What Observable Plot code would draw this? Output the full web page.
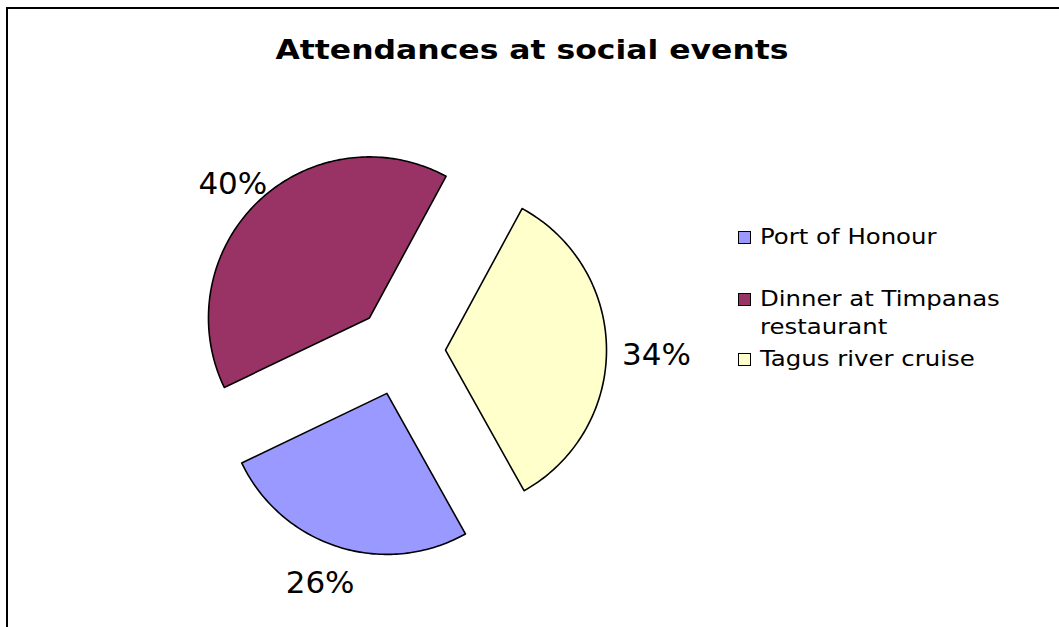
<!DOCTYPE html>
<html>
<head>
<meta charset="utf-8">
<script src="https://cdn.jsdelivr.net/npm/d3@7"></script>
<script src="https://cdn.jsdelivr.net/npm/@observablehq/plot@0.6"></script>
<style>
  html, body { margin: 0; padding: 0; background: #fff; overflow: hidden; }
  #wrap { position: relative; width: 1059px; height: 627px; overflow: hidden; font-family: "DejaVu Sans", Verdana, sans-serif; }
  #frame { position: absolute; left: 6px; top: 7px; width: 1100px; height: 700px; border-left: 2px solid #000; border-top: 2px solid #000; box-sizing: border-box; }
  #title { position: absolute; left: 0; width: 1064px; top: 34px; text-align: center; font-weight: bold; font-size: 27px; color: #000; transform: scaleX(1.165); transform-origin: 532px 0; white-space: nowrap; }
  #legend { position: absolute; left: 738px; top: 223px; font-size: 20.5px; color: #000; }
  .item { position: relative; padding-left: 22px; line-height: 28px; }
  .txt { display: inline-block; transform: scaleX(1.19); transform-origin: 0 0; white-space: nowrap; }
  .sw { position: absolute; left: 0; top: 8px; width: 11px; height: 11px; border: 1px solid #000; }
  #chart { position: absolute; left: 0; top: 0; }
</style>
</head>
<body>
<div id="wrap">
  <div id="frame"></div>
  <div id="chart"></div>
  <div id="title">Attendances at social events</div>
  <div id="legend"></div>
</div>
<script>
const categories = ["Port of Honour", "Dinner at Timpanas restaurant", "Tagus river cruise"];
const values = [26, 40, 34];
const colors = ["#9999FF", "#993366", "#FFFFCC"];
const labels = ["26%", "40%", "34%"];

// layout (not data)
const W = 1059, H = 627;
const cx = 400, cy = 350, R = 161, explode = 45, labelR = 246;
const startDeg = 150.8;
const labelNudge = [[-6, -3], [2, 11], [10, 5]];

const pie = d3.pie().sort(null).value(d => d)
  .startAngle(startDeg * Math.PI / 180)
  .endAngle((startDeg + 360) * Math.PI / 180);
const arcs = pie(values);

const pts = [];
const labelData = [];
arcs.forEach((a, i) => {
  const mid = (a.startAngle + a.endAngle) / 2;
  const ox = cx + explode * Math.sin(mid), oy = cy - explode * Math.cos(mid);
  const name = categories[i];
  pts.push({name, x: ox, y: oy});
  const n = Math.ceil((a.endAngle - a.startAngle) * 180 / Math.PI);
  for (let k = 0; k <= n; k++) {
    const t = a.startAngle + (a.endAngle - a.startAngle) * k / n;
    pts.push({name, x: ox + R * Math.sin(t), y: oy - R * Math.cos(t)});
  }
  labelData.push({
    name, label: labels[i],
    x: cx + labelR * Math.sin(mid) + labelNudge[i][0],
    y: cy - labelR * Math.cos(mid) + labelNudge[i][1]
  });
});

const plot = Plot.plot({
  width: W, height: H,
  margin: 0,
  x: {domain: [0, W], range: [0, W], axis: null},
  y: {domain: [0, H], range: [0, H], axis: null},
  color: {domain: categories, range: colors},
  marks: [
    Plot.line(pts, {x: "x", y: "y", z: "name", fill: "name", stroke: "#000", strokeWidth: 1.6, curve: "linear-closed"}),
    Plot.text(labelData, {x: "x", y: "y", text: "label", fontSize: 31, fill: "#000", fontFamily: "DejaVu Sans, Verdana, sans-serif", textAnchor: "middle", dy: 1})
  ]
});
plot.style.background = "transparent";
document.getElementById("chart").appendChild(plot);

const leg = document.getElementById("legend");
const legendLines = [["Port of Honour"], ["Dinner at Timpanas", "restaurant"], ["Tagus river cruise"]];
const gaps = [0, 34, 4];
categories.forEach((c, i) => {
  const div = document.createElement("div");
  div.className = "item";
  div.style.marginTop = gaps[i] + "px";
  div.innerHTML = `<span class="sw" style="background:${colors[i]}"></span><span class="txt">` + legendLines[i].join("<br>") + `</span>`;
  leg.appendChild(div);
});
</script>
</body>
</html>
